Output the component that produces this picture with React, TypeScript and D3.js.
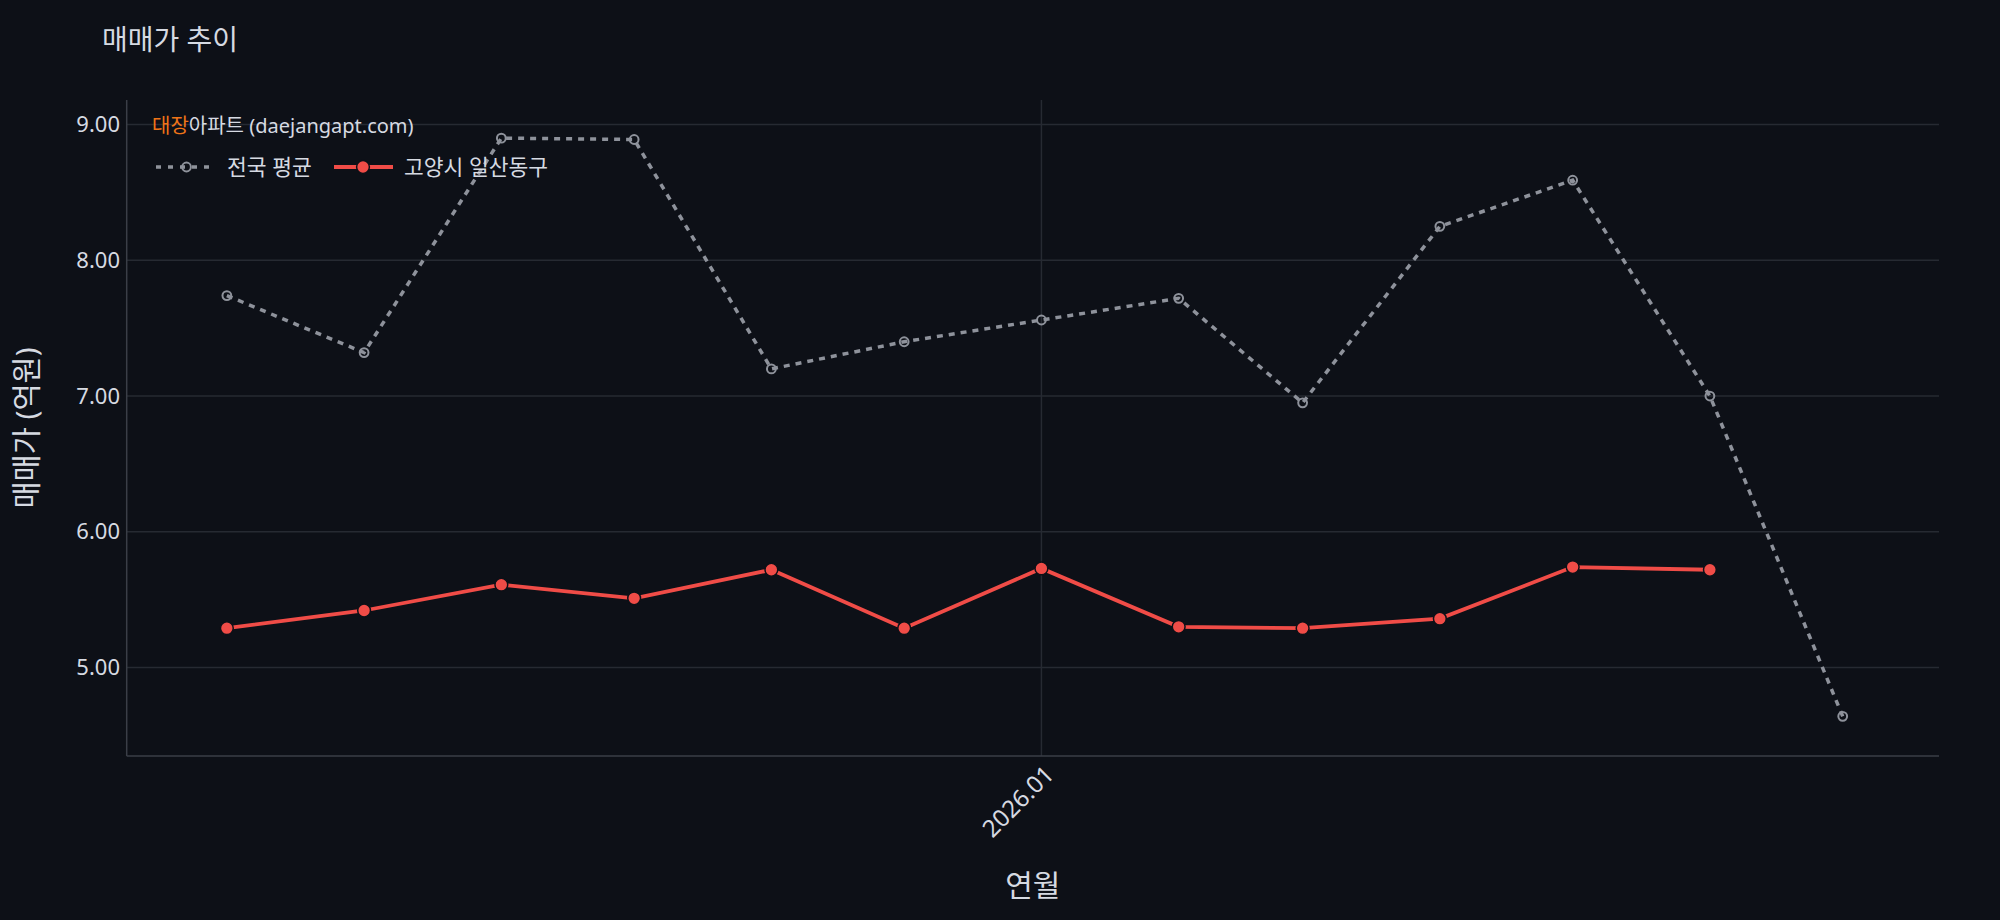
import React from 'react';
import * as d3 from 'd3';

const months = ['2025-07', '2025-08', '2025-09', '2025-10', '2025-11', '2025-12', '2026-01', '2026-02', '2026-03', '2026-04', '2026-05', '2026-06', '2026-07'];
const nationalAvg = [7.74, 7.32, 8.9, 8.89, 7.2, 7.4, 7.56, 7.72, 6.95, 8.25, 8.59, 7.0, 4.64];
const ilsanDonggu = [5.29, 5.42, 5.61, 5.51, 5.72, 5.29, 5.73, 5.3, 5.29, 5.36, 5.74, 5.72];
const yTicks = [5, 6, 7, 8, 9];
const xTicks = ['2026-01'];
const seriesNames = ['전국 평균', '고양시 일산동구'];
const titleText = '매매가 추이';
const yTitle = '매매가 (억원)';
const xTitle = '연월';

const W = 2000, H = 920;
const M = { left: 126.7, right: 1939, top: 100, bottom: 756 };
const BG = '#0d1017';
const GRID = '#262a32';
const AXIS = '#3a3e47';
const TEXT = '#d6dae2';
const GREY = '#8e929b';
const RED = '#f04c47';
const ORANGE = '#ef7418';
const FONT = '"Noto Sans", "Noto Sans CJK KR", sans-serif';

const parse = (s: string) => {
  const [y, m] = s.split('-').map(Number);
  return new Date(Date.UTC(y, m - 1, 1));
};

export default function App() {
  const x = d3.scaleUtc()
    .domain([new Date(Date.UTC(2025, 5, 8, 9)), new Date(Date.UTC(2026, 6, 22, 18))])
    .range([M.left, M.right]);
  const y = d3.scaleLinear().domain([4.348, 9.181]).range([M.bottom, M.top]);

  const natPts = nationalAvg.map((v, i) => [x(parse(months[i])), y(v)] as [number, number]);
  const ilPts = ilsanDonggu.map((v, i) => [x(parse(months[i])), y(v)] as [number, number]);
  const line = d3.line();

  return (
    <svg width={W} height={H} style={{ position: 'absolute', left: 0, top: 0, background: BG }} fontFamily={FONT}>
      <rect x={0} y={0} width={W} height={H} fill={BG} />
      <text x={102} y={50} fill={TEXT} fontSize={28}>{titleText}</text>

      {yTicks.map(t => (
        <g key={t}>
          <line x1={M.left} x2={M.right} y1={y(t)} y2={y(t)} stroke={GRID} strokeWidth={1.5} />
          <text x={120} y={y(t)} dy="0.35em" textAnchor="end" fill={TEXT} fontSize={22}>{t.toFixed(2)}</text>
        </g>
      ))}
      {xTicks.map(t => {
        const xx = x(parse(t));
        return (
          <g key={t}>
            <line x1={xx} x2={xx} y1={M.top} y2={M.bottom} stroke={GRID} strokeWidth={1.5} />
            <text transform={`translate(${xx + 8},${M.bottom + 14}) rotate(-45)`} textAnchor="end" dy="0.35em" fill={TEXT} fontSize={24}>
              {t.replace('-', '.')}
            </text>
          </g>
        );
      })}
      <line x1={M.left} x2={M.left} y1={M.top} y2={M.bottom} stroke={AXIS} strokeWidth={1.5} />
      <line x1={M.left} x2={M.right} y1={M.bottom} y2={M.bottom} stroke={AXIS} strokeWidth={1.5} />

      <text transform={`translate(27,428) rotate(-90)`} textAnchor="middle" dy="0.35em" fill={TEXT} fontSize={29.5}>{yTitle}</text>
      <text x={(M.left + M.right) / 2} y={885} textAnchor="middle" dy="0.35em" fill={TEXT} fontSize={30}>{xTitle}</text>

      {/* watermark */}
      <text x={152} y={126} dy="0.35em" fontSize={20} fill={TEXT}>
        <tspan fill={ORANGE}>대장</tspan>아파트 (daejangapt.com)
      </text>

      {/* series */}
      <path d={line(natPts) || ''} fill="none" stroke={GREY} strokeWidth={3.5} strokeDasharray="6,6" />
      {natPts.map((p, i) => (
        <circle key={i} cx={p[0]} cy={p[1]} r={4.4} fill="none" stroke={GREY} strokeWidth={2} />
      ))}
      <path d={line(ilPts) || ''} fill="none" stroke={RED} strokeWidth={3.8} />
      {ilPts.map((p, i) => (
        <circle key={i} cx={p[0]} cy={p[1]} r={6.4} fill={RED} stroke={BG} strokeWidth={1.5} />
      ))}

      {/* legend */}
      <g>
        <line x1={156} x2={211} y1={167} y2={167} stroke={GREY} strokeWidth={3.5} strokeDasharray="5,7" />
        <circle cx={186.5} cy={167} r={4.4} fill="none" stroke={GREY} strokeWidth={2} />
        <text x={227} y={167} dy="0.35em" fontSize={21.5} fill={TEXT}>{seriesNames[0]}</text>
        <line x1={334} x2={393} y1={167} y2={167} stroke={RED} strokeWidth={3.8} />
        <circle cx={363} cy={167} r={6.4} fill={RED} stroke={BG} strokeWidth={1.5} />
        <text x={404} y={167} dy="0.35em" fontSize={21.5} fill={TEXT}>{seriesNames[1]}</text>
      </g>
    </svg>
  );
}
